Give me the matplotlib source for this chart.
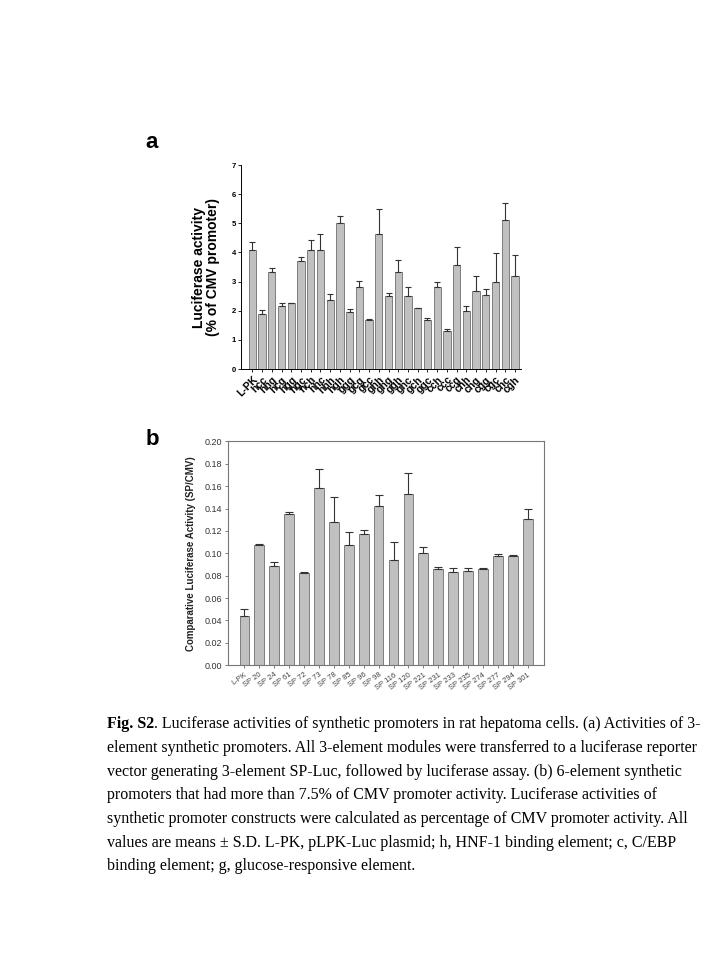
import numpy as np
import matplotlib
matplotlib.use("Agg")
import matplotlib.pyplot as plt

# panel a: 3-element promoters (% of CMV promoter)
labels_a = ["L-PK", "hcc", "hhg", "hcg", "hgg", "hgc", "hch", "hhc", "hhh", "hgh",
            "ggg", "gcg", "gcc", "ghh", "ghg", "ggh", "ghc", "gch", "ggc", "cch",
            "ccc", "ccg", "chh", "chg", "cgg", "cgc", "chc", "cgh"]
values_a = [4.07, 1.90, 3.33, 2.15, 2.25, 3.70, 4.10, 4.07, 2.38, 5.00,
            1.96, 2.80, 1.67, 4.63, 2.50, 3.33, 2.50, 2.08, 1.67, 2.83,
            1.30, 3.57, 1.98, 2.68, 2.55, 3.00, 5.13, 3.18]
err_a = [0.28, 0.12, 0.15, 0.12, 0.02, 0.13, 0.32, 0.56, 0.20, 0.24,
         0.09, 0.23, 0.05, 0.87, 0.12, 0.40, 0.30, 0.02, 0.09, 0.14,
         0.07, 0.63, 0.17, 0.52, 0.18, 0.97, 0.57, 0.72]

# panel b: 6-element promoters (SP/CMV)
labels_b = ["L-PK", "SP 20", "SP 24", "SP 61", "SP 72", "SP 73", "SP 78", "SP 85",
            "SP 96", "SP 98", "SP 116", "SP 120", "SP 221", "SP 231", "SP 233",
            "SP 235", "SP 274", "SP 277", "SP 294", "SP 301"]
values_b = [0.044, 0.107, 0.089, 0.135, 0.082, 0.158, 0.128, 0.107, 0.117, 0.142,
            0.094, 0.153, 0.100, 0.086, 0.083, 0.084, 0.086, 0.098, 0.098, 0.131]
err_b = [0.006, 0.001, 0.003, 0.002, 0.001, 0.017, 0.022, 0.012, 0.004, 0.010,
         0.016, 0.019, 0.006, 0.002, 0.004, 0.003, 0.001, 0.001, 0.0005, 0.009]

caption = [
    "element synthetic promoters. All 3-element modules were transferred to a luciferase reporter",
    "vector generating 3-element SP-Luc, followed by luciferase assay. (b) 6-element synthetic",
    "promoters that had more than 7.5% of CMV promoter activity. Luciferase activities of",
    "synthetic promoter constructs were calculated as percentage of CMV promoter activity. All",
    "values are means \u00b1 S.D. L-PK, pLPK-Luc plasmid; h, HNF-1 binding element; c, C/EBP",
    "binding element; g, glucose-responsive element.",
]

plt.rcParams["font.family"] = ["Liberation Sans", "DejaVu Sans"]
bar_color = "#c0c0c0"
edge_color = "#6e6e6e"

fig = plt.figure(figsize=(7.2, 9.6), dpi=100)

# ---- panel a
ax1 = fig.add_axes([0.335, 0.6156, 0.389, 0.2125])
x = np.arange(len(values_a))
ax1.bar(x, values_a, width=0.75, color=bar_color, edgecolor=edge_color, linewidth=0.6)
ax1.errorbar(x, values_a, yerr=[np.zeros(len(err_a)), err_a], fmt="none",
             ecolor="#333333", elinewidth=0.8, capsize=2.5, capthick=0.8)
ax1.set_xlim(-1.15, 27.65)
ax1.set_ylim(0, 7)
ax1.set_yticks(range(8))
ax1.set_yticklabels([str(i) for i in range(8)], fontsize=5.5, fontweight="bold")
ax1.set_xticks(x)
ax1.set_xticklabels(labels_a, rotation=45, ha="right", rotation_mode="anchor",
                    fontsize=7.5, fontweight="bold")
ax1.tick_params(axis="both", direction="out", length=2.5, width=0.6, pad=1.5)
for s in ["top", "right"]:
    ax1.spines[s].set_visible(False)
for s in ["left", "bottom"]:
    ax1.spines[s].set_linewidth(0.7)
ax1.set_ylabel("Luciferase activity\n(% of CMV promoter)", fontsize=10,
               fontweight="bold", labelpad=8, linespacing=1.0)

# ---- panel b
ax2 = fig.add_axes([0.3167, 0.307, 0.439, 0.2333])
xb = np.arange(len(values_b))
ax2.bar(xb, values_b, width=0.65, color=bar_color, edgecolor=edge_color, linewidth=0.6)
ax2.errorbar(xb, values_b, yerr=[np.zeros(len(err_b)), err_b], fmt="none",
             ecolor="#333333", elinewidth=0.8, capsize=3, capthick=0.8)
ax2.set_xlim(-1.1, 20.1)
ax2.set_ylim(0, 0.20)
yt = np.arange(0, 0.201, 0.02)
ax2.set_yticks(yt)
ax2.set_yticklabels([f"{v:.2f}" for v in yt], fontsize=6.5, color="#333333")
ax2.set_xticks(xb)
ax2.set_xticklabels(labels_b, rotation=35, ha="right", rotation_mode="anchor",
                    fontsize=5.5, color="#444444")
ax2.tick_params(axis="both", direction="out", length=2.5, width=0.6, pad=2,
                color="#666666")
for s in ax2.spines.values():
    s.set_color("#777777")
    s.set_linewidth(0.8)
ax2.set_ylabel("Comparative Luciferase Activity (SP/CMV)", fontsize=7,
               fontweight="bold", labelpad=6, color="#222222")

# panel letters
fig.text(152 / 720, 1 - 143 / 960, "a", fontsize=16, fontweight="bold",
         ha="center", va="center")
fig.text(152 / 720, 1 - 440 / 960, "b", fontsize=16, fontweight="bold",
         ha="center", va="center")

# caption
serif = ["Liberation Serif", "DejaVu Serif"]
x0 = 107 / 720
fs = 11.5
t = fig.text(x0, 1 - 724 / 960, "Fig. S2", fontsize=fs, fontweight="bold",
             family=serif, va="center")
fig.canvas.draw()
bb = t.get_window_extent(fig.canvas.get_renderer())
fig.text(bb.x1 / fig.bbox.width, 1 - 724 / 960,
         ". Luciferase activities of synthetic promoters in rat hepatoma cells. (a) Activities of 3-",
         fontsize=fs, family=serif, va="center")
for i, line in enumerate(caption):
    fig.text(x0, 1 - (748 + 23.7 * i) / 960, line, fontsize=fs, family=serif, va="center")

fig.savefig("out.png", dpi=100)
